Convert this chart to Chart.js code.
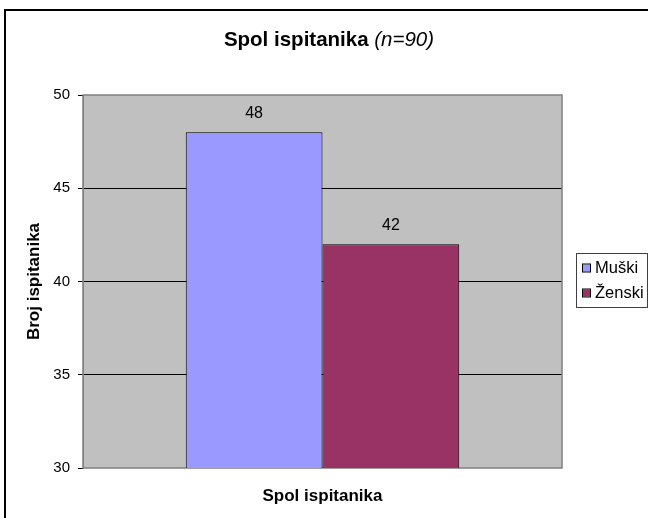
<!DOCTYPE html>
<html>
<head>
<meta charset="utf-8">
<script src="https://cdn.jsdelivr.net/npm/chart.js@4/dist/chart.umd.min.js"></script>
<style>
  html, body { margin: 0; padding: 0; background: #fff; }
  #wrap { width: 648px; height: 518px; }
</style>
</head>
<body>
<div id="wrap"><canvas id="c" width="648" height="518"></canvas></div>
<script>
const FONT = "'Liberation Sans', Arial, sans-serif";
const categories = [''];
const seriesNames = ['Muški', 'Ženski'];
const seriesValues = [48, 42];
const seriesColors = ['#9999FF', '#993366'];
const yTicks = [30, 35, 40, 45, 50];
const titleMain = 'Spol ispitanika ';
const titleSub = '(n=90)';
const xTitle = 'Spol ispitanika';
const yTitle = 'Broj ispitanika';

const datasets = seriesNames.map((name, i) => ({
  label: name,
  data: [seriesValues[i]],
  backgroundColor: seriesColors[i],
  borderColor: '#000000',
  borderWidth: 1,
  borderSkipped: false
}));

const decor = {
  id: 'decor',
  beforeDraw(chart) {
    const ctx = chart.ctx, a = chart.chartArea;
    ctx.save();
    ctx.fillStyle = '#ffffff';
    ctx.fillRect(0, 0, chart.width, chart.height);
    ctx.fillStyle = '#C0C0C0';
    ctx.fillRect(a.left, a.top, a.right - a.left, a.bottom - a.top);
    ctx.strokeStyle = '#000000';
    ctx.lineWidth = 2;
    ctx.beginPath();
    ctx.moveTo(5, chart.height);
    ctx.lineTo(5, 10);
    ctx.lineTo(chart.width, 10);
    ctx.stroke();
    ctx.textBaseline = 'middle';
    ctx.fillStyle = '#000';
    ctx.font = 'bold 20.5px ' + FONT;
    const w1 = ctx.measureText(titleMain).width;
    ctx.font = 'italic 20.5px ' + FONT;
    const w2 = ctx.measureText(titleSub).width;
    const x0 = 329 - (w1 + w2) / 2;
    ctx.textAlign = 'left';
    ctx.font = 'bold 20.5px ' + FONT;
    ctx.fillText(titleMain, x0, 40);
    ctx.font = 'italic 20.5px ' + FONT;
    ctx.fillText(titleSub, x0 + w1, 40);
    ctx.restore();
  },
  beforeDatasetsDraw(chart) {
    const ctx = chart.ctx, a = chart.chartArea;
    ctx.save();
    ctx.strokeStyle = '#808080';
    ctx.lineWidth = 1.5;
    ctx.strokeRect(a.left, a.top, a.right - a.left, a.bottom - a.top);
    ctx.restore();
  },
  afterDatasetsDraw(chart) {
    const ctx = chart.ctx;
    ctx.save();
    ctx.fillStyle = '#000';
    ctx.font = '16px ' + FONT;
    ctx.textAlign = 'center';
    ctx.textBaseline = 'middle';
    chart.data.datasets.forEach((ds, i) => {
      const meta = chart.getDatasetMeta(i);
      meta.data.forEach((bar, j) => {
        ctx.fillText(String(ds.data[j]), bar.x, bar.y - 19);
      });
    });
    ctx.restore();
  },
  afterDraw(chart) {
    const ctx = chart.ctx;
    ctx.save();
    const bx = 576, by = 253, bw = 72, bh = 55;
    ctx.fillStyle = '#ffffff';
    ctx.fillRect(bx, by, bw, bh);
    ctx.strokeStyle = '#404040';
    ctx.lineWidth = 1;
    ctx.strokeRect(bx + 0.5, by + 0.5, bw - 1, bh - 1);
    ctx.font = '16.5px ' + FONT;
    ctx.textBaseline = 'middle';
    ctx.textAlign = 'left';
    chart.data.datasets.forEach((ds, i) => {
      const cy = 268 + i * 25;
      ctx.fillStyle = ds.backgroundColor;
      ctx.fillRect(583, cy - 3.5, 7, 7);
      ctx.strokeStyle = '#000';
      ctx.strokeRect(582.5, cy - 4, 8, 8);
      ctx.fillStyle = '#000';
      ctx.fillText(ds.label, 595, cy);
    });
    ctx.restore();
  }
};

new Chart(document.getElementById('c'), {
  type: 'bar',
  data: { labels: categories, datasets },
  options: {
    responsive: false,
    animation: false,
    devicePixelRatio: 1,
    categoryPercentage: 0.571,
    barPercentage: 1,
    layout: { padding: { top: 95, right: 86, bottom: 0, left: 0 } },
    plugins: { legend: { display: false }, title: { display: false }, tooltip: { enabled: false } },
    scales: {
      x: {
        ticks: { display: false },
        grid: { display: false, drawTicks: false },
        border: { display: false },
        title: { display: true, text: xTitle, color: '#000', font: { family: FONT, size: 17, weight: 'bold' }, padding: { top: 0, bottom: 11 } },
        afterFit(scale) { scale.height = 50; }
      },
      y: {
        min: yTicks[0],
        max: yTicks[yTicks.length - 1],
        afterBuildTicks(scale) { scale.ticks = yTicks.map(v => ({ value: v })); },
        ticks: { color: '#000', font: { family: FONT, size: 15 }, padding: 8 },
        grid: {
          color: ctx => (ctx.tick && (ctx.tick.value === 30 || ctx.tick.value === 50)) ? 'rgba(0,0,0,0)' : '#000000',
          tickColor: '#000000',
          tickLength: 5,
          lineWidth: 1
        },
        border: { display: true, color: '#808080' },
        title: { display: true, text: yTitle, color: '#000', font: { family: FONT, size: 17, weight: 'bold' }, padding: { top: 24, bottom: 0 } },
        afterFit(scale) { scale.width = 83; }
      }
    }
  },
  plugins: [decor]
});
</script>
</body>
</html>
